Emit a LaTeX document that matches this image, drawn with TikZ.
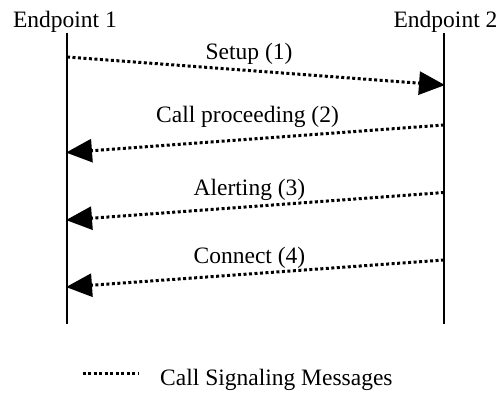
\documentclass[tikz,border=0pt]{standalone}
\usepackage{fontspec}
\setmainfont{Liberation Serif}
\usetikzlibrary{arrows.meta}
\begin{document}
\begin{tikzpicture}[x=1pt,y=-1pt,
  lifeline/.style={line width=2pt},
  msg/.style={line width=3pt, dash pattern=on 3pt off 2.5pt,
    -{Triangle[length=26pt,width=23pt]}, shorten >=-1pt},
  lbl/.style={font=\fontsize{23.5}{28}\selectfont, inner sep=0pt, anchor=base}]
\useasboundingbox (0,0) rectangle (501,396);
\node[lbl] (e1) at (65,27.5) {Endpoint 1};
\node[lbl] (e2) at (445.5,27.5) {Endpoint 2};
\coordinate (l1t) at (67,33); \coordinate (l1b) at (67,324);
\coordinate (l2t) at (444,33); \coordinate (l2b) at (444,324);
\draw[lifeline] (l1t) -- (l1b);
\draw[lifeline] (l2t) -- (l2b);
\coordinate (a1s) at (67,57); \coordinate (a1e) at (444,85);
\coordinate (a2s) at (444,125); \coordinate (a2e) at (67,152.5);
\coordinate (a3s) at (444,192.5); \coordinate (a3e) at (67,220);
\coordinate (a4s) at (444,260); \coordinate (a4e) at (67,287);
\draw[msg] (a1s) -- (a1e);
\draw[msg] (a2s) -- (a2e);
\draw[msg] (a3s) -- (a3e);
\draw[msg] (a4s) -- (a4e);
\node[lbl] (t1) at (249,60) {Setup (1)};
\node[lbl] (t2) at (247.5,122) {Call proceeding (2)};
\node[lbl] (t3) at (249.5,195) {Alerting (3)};
\node[lbl] (t4) at (249.5,263) {Connect (4)};
\coordinate (lgs) at (82.5,373); \coordinate (lge) at (138,373);
\draw[line width=3pt, dash pattern=on 3pt off 2.5pt] (lgs) -- (lge);
\node[lbl, anchor=base west] (lg) at (160,385) {Call Signaling Messages};
\end{tikzpicture}
\end{document}
